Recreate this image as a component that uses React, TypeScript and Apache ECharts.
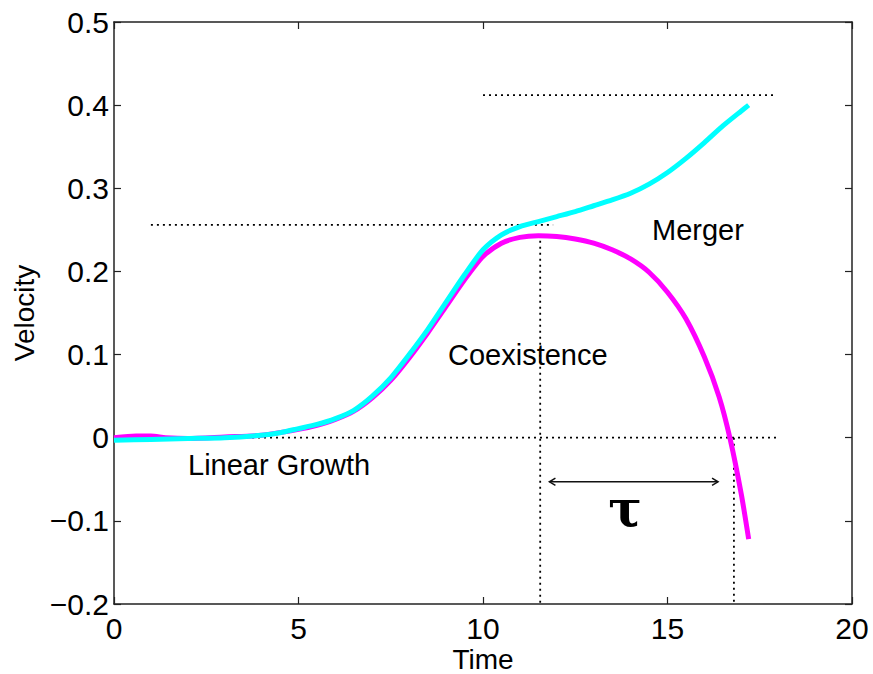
import React, { useEffect, useRef } from "react";
import * as echarts from "echarts";

// Curves (time, velocity)
const cyanX = [0, 1, 2, 3, 4, 4.5, 5, 5.5, 6, 6.5, 7, 7.5, 8, 8.5, 9, 9.5, 10, 10.5, 11, 11.5, 12, 12.5, 13, 13.5, 14, 14.5, 15, 15.5, 16, 16.5, 17, 17.2];
const cyanY = [-0.003, -0.002, -0.001, 0.0, 0.003, 0.006, 0.011, 0.016, 0.023, 0.033, 0.05, 0.072, 0.1, 0.13, 0.163, 0.196, 0.226, 0.244, 0.254, 0.26, 0.266, 0.272, 0.279, 0.286, 0.294, 0.305, 0.319, 0.336, 0.355, 0.375, 0.393, 0.4];

const magentaX = [0, 0.6, 1.0, 1.4, 2, 3, 4, 5, 5.5, 6, 6.5, 7, 7.5, 8, 8.5, 9, 9.5, 10, 10.5, 11, 11.5, 12, 12.5, 13, 13.5, 14, 14.5, 15, 15.5, 16, 16.4, 16.7, 17, 17.2];
const magentaY = [0.0, 0.002, 0.002, 0.0, -0.001, 0.001, 0.003, 0.01, 0.015, 0.022, 0.032, 0.048, 0.069, 0.096, 0.126, 0.158, 0.19, 0.218, 0.234, 0.241, 0.243, 0.242, 0.239, 0.234, 0.226, 0.215, 0.199, 0.175, 0.143, 0.097, 0.049, -0.002, -0.068, -0.122];

// Dotted reference lines: [x1, y1, x2, y2]
const refLines = [
  [0, 0, 18, 0],
  [1, 0.256, 11.9, 0.256],
  [10, 0.412, 17.9, 0.412],
  [11.55, 0.244, 11.55, -0.2],
  [16.8, 0, 16.8, -0.2],
];

// Double arrow for tau: [x1, y, x2, y]
const tauArrow = [[11.8, -0.053, 16.37, -0.053]];

const xTicks = { min: 0, max: 20, interval: 5 };
const yTicks = { min: -0.2, max: 0.5, interval: 0.1 };

const annotations = [
  { text: "Linear Growth", x: 188, y: 465 },
  { text: "Coexistence", x: 448, y: 355 },
  { text: "Merger", x: 652, y: 230 },
];

const FONT = '"Liberation Sans", Arial, Helvetica, sans-serif';

function zip(xs: number[], ys: number[]) {
  return xs.map((x, i) => [x, ys[i]]);
}

export default function App() {
  const ref = useRef<HTMLDivElement>(null);
  useEffect(() => {
    if (!ref.current) return;
    const chart = echarts.init(ref.current, null, { renderer: "svg" });
    const axisLine = { show: true, onZero: false, lineStyle: { color: "#222", width: 1.5 } };
    const tick = { show: true, inside: true, length: 7, lineStyle: { color: "#222", width: 1.2 } };
    const fmtY = (v: number) => {
      const r = Math.round(v * 10) / 10;
      if (r === 0) return "0";
      return (r < 0 ? "\u2212" : "") + Math.abs(r).toFixed(1);
    };
    const refSeries = refLines.map((l) => ({
      type: "line",
      data: [[l[0], l[1]], [l[2], l[3]]],
      symbol: "none",
      silent: true,
      z: 1,
      lineStyle: { color: "#000", width: 1.8, type: [2, 4] },
    }));
    chart.setOption({
      animation: false,
      backgroundColor: "#fff",
      grid: { left: 114, right: 21, top: 22, bottom: 70, containLabel: false, outerBoundsMode: "none" },
      xAxis: [
        {
          type: "value",
          ...xTicks,
          position: "bottom",
          axisLine,
          axisTick: tick,
          splitLine: { show: false },
          axisLabel: { color: "#000", fontSize: 30, lineHeight: 30, fontFamily: FONT, margin: 9 },
          name: "Time",
          nameLocation: "middle",
          nameGap: 42,
          nameMoveOverlap: false,
          nameTextStyle: { color: "#000", fontSize: 28, lineHeight: 26, fontFamily: FONT },
        },
        {
          type: "value",
          ...xTicks,
          position: "top",
          axisLine,
          axisTick: tick,
          splitLine: { show: false },
          axisLabel: { show: false },
        },
      ],
      yAxis: [
        {
          type: "value",
          ...yTicks,
          position: "left",
          axisLine,
          axisTick: tick,
          splitLine: { show: false },
          axisLabel: { color: "#000", fontSize: 30, fontFamily: FONT, margin: 5, formatter: fmtY },
          name: "Velocity",
          nameLocation: "middle",
          nameGap: 70,
          nameTextStyle: { color: "#000", fontSize: 28, fontFamily: FONT },
        },
        {
          type: "value",
          ...yTicks,
          position: "right",
          axisLine,
          axisTick: tick,
          splitLine: { show: false },
          axisLabel: { show: false },
        },
      ],
      series: [
        ...refSeries,
        {
          type: "line",
          name: "magenta",
          data: zip(magentaX, magentaY),
          symbol: "none",
          smooth: 0.25,
          lineStyle: { color: "#ff00ff", width: 5 },
          z: 3,
        },
        {
          type: "line",
          name: "cyan",
          data: zip(cyanX, cyanY),
          symbol: "none",
          smooth: 0.25,
          lineStyle: { color: "#00ffff", width: 5 },
          z: 4,
        },
        {
          type: "custom",
          data: tauArrow,
          encode: { x: [0, 2], y: [1, 3] },
          silent: true,
          z: 5,
          renderItem: (params: any, api: any) => {
            const p1 = api.coord([api.value(0), api.value(1)]);
            const p2 = api.coord([api.value(2), api.value(3)]);
            const h = 6;
            const stroke = { stroke: "#111", lineWidth: 1.5, fill: "none" };
            return {
              type: "group",
              children: [
                { type: "line", shape: { x1: p1[0], y1: p1[1], x2: p2[0], y2: p2[1] }, style: stroke },
                {
                  type: "polyline",
                  shape: { points: [[p1[0] + h, p1[1] - h * 0.6], [p1[0], p1[1]], [p1[0] + h, p1[1] + h * 0.6]] },
                  style: stroke,
                },
                {
                  type: "polyline",
                  shape: { points: [[p2[0] - h, p2[1] - h * 0.6], [p2[0], p2[1]], [p2[0] - h, p2[1] + h * 0.6]] },
                  style: stroke,
                },
              ],
            };
          },
        },
      ],
      graphic: [
        ...annotations.map((a) => ({
          type: "text",
          left: a.x,
          top: a.y - 15,
          style: { text: a.text, fill: "#000", font: `29px ${FONT}` },
          z: 10,
        })),
        {
          type: "text",
          x: 625,
          y: 508,
          style: {
            text: "\u03c4",
            fill: "#000",
            font: 'bold 50px "DejaVu Serif", "Liberation Serif", serif',
            align: "center",
            verticalAlign: "middle",
          },
          z: 10,
        },
      ],
    });
    return () => chart.dispose();
  }, []);
  return <div ref={ref} style={{ width: 873, height: 674, position: "absolute", left: 0, top: 0 }} />;
}
